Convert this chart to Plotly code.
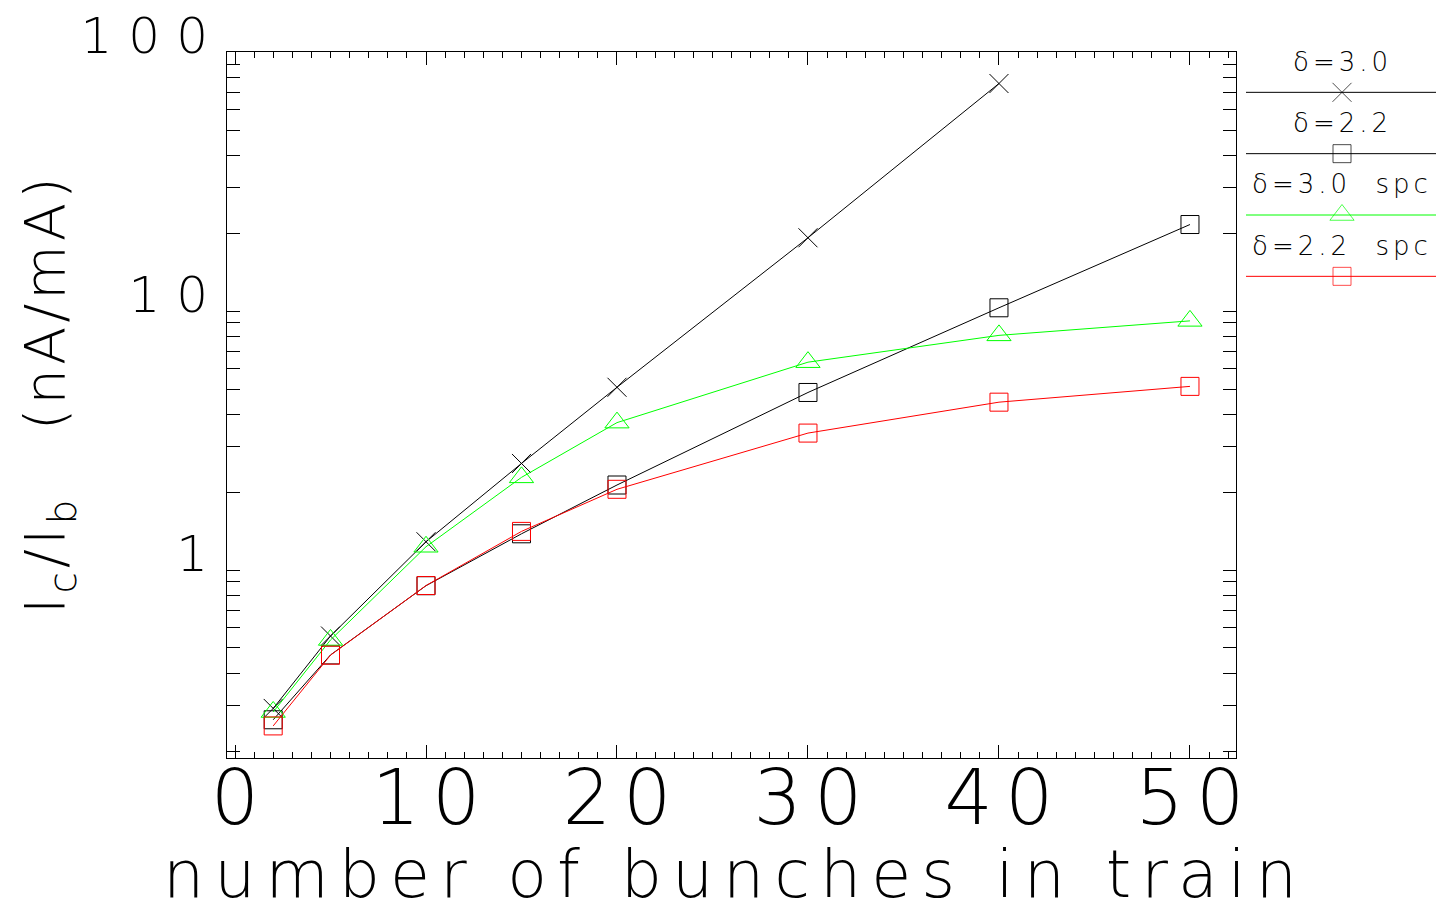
import plotly.graph_objects as go

# ---- data ----
bunches = [2, 5, 10, 15, 20, 30, 40, 50]
d30 = [0.292, 0.556, 1.286, 2.58, 5.08, 19.2, 75.7]          # delta=3.0 (x marker), up to 40 bunches
d22 = [0.264, 0.47, 0.87, 1.38, 2.13, 4.85, 10.3, 21.6]       # delta=2.2 (black squares)
d30_spc = [0.283, 0.537, 1.23, 2.28, 3.71, 6.35, 8.06, 9.17]  # delta=3.0 spc (green triangles)
d22_spc = [0.25, 0.469, 0.871, 1.41, 2.05, 3.38, 4.45, 5.12]  # delta=2.2 spc (red squares)

x_tickvals = [0, 10, 20, 30, 40, 50]
y_tickvals = [1, 10, 100]

series_names = ["δ=3.0", "δ=2.2", "δ=3.0\u00a0\u00a0spc", "δ=2.2\u00a0\u00a0spc"]
series_y = [d30, d22, d30_spc, d22_spc]
series_color = ["#000000", "#000000", "#00ff00", "#ff0000"]
series_symbol = ["x-thin-open", "square-open", "triangle-up-open", "square-open"]
series_size = [19, 18, 21, 18]

x_title = "number of bunches in train"
y_title = "I<sub>c</sub>/I<sub>b</sub>\u00a0\u00a0\u00a0(nA/mA)"

# page body has an 8 px margin; size the figure to fit the 1444x904 window
OFF = 8
W, H = 1444 - OFF, 904 - OFF
FONT = "DejaVu Sans"

def px_x(p):
    return (p - OFF) / W

def px_y(p):
    return 1 - (p - OFF) / H

def spaced(t, s):
    return '<span style="letter-spacing:%spx">%s</span>' % (s, t)

fig = go.Figure()

for name, ys, col, sym, sz in zip(series_names, series_y, series_color, series_symbol, series_size):
    fig.add_trace(go.Scatter(
        x=bunches[:len(ys)], y=ys, mode="lines+markers", name=name,
        line=dict(color=col, width=1),
        marker=dict(symbol=sym, size=sz, color=col, line=dict(color=col, width=1)),
        xaxis="x", yaxis="y", showlegend=False, cliponaxis=False,
    ))

# ---- hand-drawn legend (line sample with marker in the middle, label above) ----
for i, (name, col, sym, sz) in enumerate(zip(series_names, series_color, series_symbol, series_size)):
    fig.add_trace(go.Scatter(
        x=[0, 0.5, 1], y=[i + 1, i + 1, i + 1], mode="lines+markers",
        line=dict(color=col, width=1),
        marker=dict(symbol=sym, size=[0, sz, 0], color=col, line=dict(color=col, width=1)),
        xaxis="x2", yaxis="y2", showlegend=False, cliponaxis=False, hoverinfo="skip",
    ))
    fig.add_annotation(
        x=0.5, y=i + 0.5, xref="x2", yref="y2", showarrow=False,
        text=spaced(name, 4),
        font=dict(family=FONT, size=26, color="#000000", weight=200),
        xanchor="center", yanchor="middle",
    )

axis_common = dict(
    showline=True, linecolor="#000000", linewidth=1, mirror="ticks",
    ticks="inside", tickcolor="#000000", tickwidth=1,
    showgrid=False, zeroline=False, automargin=False,
    ticklabeloverflow="allow",
)

fig.update_layout(
    width=W, height=H,
    margin=dict(l=0, r=0, t=0, b=0, autoexpand=False),
    paper_bgcolor="#ffffff", plot_bgcolor="#ffffff",
    font=dict(family=FONT, color="#000000", weight=200),
    xaxis=dict(
        domain=[px_x(227), px_x(1236)], range=[-0.419, 52.41], anchor="y",
        tickmode="array", tickvals=x_tickvals,
        ticktext=[spaced(str(v), 12) for v in x_tickvals], ticklen=13,
        minor=dict(ticks="inside", dtick=1, ticklen=6, tickcolor="#000000", showgrid=False),
        tickfont=dict(family=FONT, size=76, color="#000000", weight=200),
        ticklabelstandoff=-26, ticklabelshift=6,
        **axis_common,
    ),
    yaxis=dict(
        domain=[px_y(758), px_y(52)], type="log", range=[-0.726, 2.0008], anchor="x",
        tickmode="array", tickvals=y_tickvals,
        ticktext=[spaced(str(v), 16) for v in y_tickvals], ticklen=13,
        minor=dict(ticks="inside", dtick="D1", ticklen=13, tickcolor="#000000", showgrid=False),
        tickfont=dict(family=FONT, size=50, color="#000000", weight=200),
        ticklabelstandoff=-8, ticklabelshift=-17,
        **axis_common,
    ),
    xaxis2=dict(domain=[px_x(1246), px_x(1438)], range=[0, 1], anchor="y2",
                visible=False, automargin=False),
    yaxis2=dict(domain=[px_y(307), px_y(31)], range=[4.5, 0], anchor="x2",
                visible=False, automargin=False),
)

fig.add_annotation(
    x=(px_x(227) + px_x(1236)) / 2 + 4 / W, y=px_y(874), xref="paper", yref="paper", showarrow=False,
    text=spaced(x_title, 10),
    font=dict(family=FONT, size=65, color="#000000", weight=200),
    xanchor="center", yanchor="middle",
)
fig.add_annotation(
    x=px_x(48), y=px_y(394), xref="paper", yref="paper", showarrow=False,
    text=spaced(y_title, 4),
    font=dict(family=FONT, size=56, color="#000000", weight=200),
    textangle=-90, xanchor="center", yanchor="middle",
)

fig.write_html("out.html")
